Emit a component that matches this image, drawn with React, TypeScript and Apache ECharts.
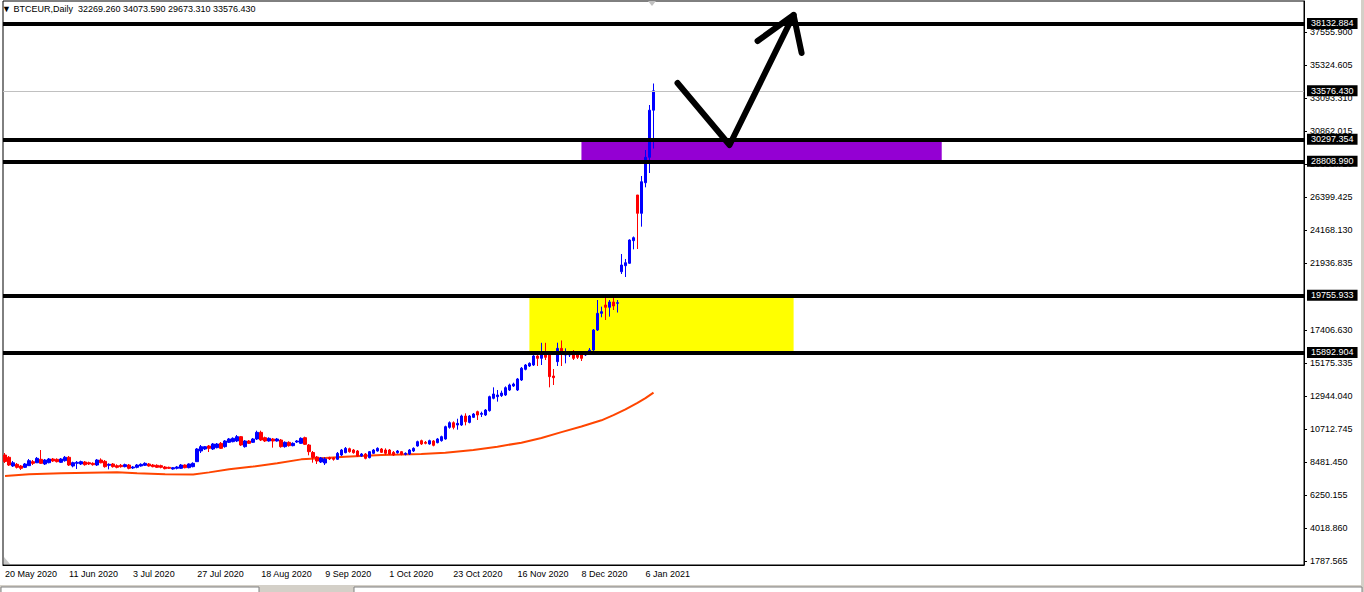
import React, { useEffect, useRef } from "react";
import * as echarts from "echarts";

// ---- data ----
const symbolName = "BTCEUR,Daily";
const dateLabels = [
  "20 May 2020", "11 Jun 2020", "3 Jul 2020", "27 Jul 2020", "18 Aug 2020", "9 Sep 2020",
  "1 Oct 2020", "23 Oct 2020", "16 Nov 2020", "8 Dec 2020", "6 Jan 2021",
];
const barsPerLabel = 16;
const slotCount = 325;

// [open, close, low, high]
const candles: number[][] = [
  [8955, 8516, 8414, 9090], [8800, 8279, 8212, 8888], [8212, 8430, 8144, 8550], [8324, 8121, 8042, 8414],
  [8212, 8054, 7941, 8279], [8121, 8347, 8076, 8414], [8234, 8572, 8212, 8685], [8505, 8392, 8279, 8617],
  [8430, 8730, 8414, 8820], [8663, 8392, 8347, 9293], [8347, 8617, 8279, 8685], [8436, 8685, 8392, 8752],
  [8685, 8550, 8482, 8752], [8663, 8505, 8450, 8730], [8460, 8685, 8414, 8752], [8572, 8800, 8505, 8888],
  [8800, 8279, 8212, 8888], [8212, 8436, 8121, 8505], [8392, 8460, 8009, 8550], [8347, 8505, 8279, 8572],
  [8482, 8301, 8234, 8550], [8436, 8347, 8279, 8505], [8392, 8301, 8234, 8460], [8279, 8617, 8212, 8685],
  [8617, 8430, 8392, 8730], [8527, 8167, 8100, 8617], [8257, 8324, 7986, 8392], [8347, 8167, 8100, 8414],
  [8234, 8121, 8054, 8324], [8257, 8167, 8100, 8347], [8167, 8301, 8121, 8370], [8279, 8054, 7986, 8347],
  [8076, 8144, 8009, 8212], [8121, 8279, 8054, 8347], [8212, 8324, 8167, 8392], [8257, 8392, 8212, 8460],
  [8347, 8212, 8167, 8414], [8279, 8167, 8121, 8347], [8257, 8121, 8076, 8324], [8234, 8121, 8054, 8301],
  [8144, 8031, 7986, 8212], [8121, 8054, 8009, 8167], [8009, 8098, 7963, 8144], [8054, 8144, 7986, 8212],
  [8054, 8279, 8009, 8347], [8279, 8098, 8054, 8324], [8098, 8347, 8054, 8392], [8167, 8392, 8121, 8460],
  [8505, 9361, 8482, 9428], [9226, 9519, 9090, 9631], [9361, 9519, 9293, 9564], [9564, 9406, 9158, 9631],
  [9361, 9699, 9293, 9766], [9451, 9699, 9406, 9766], [9744, 9406, 9361, 9834], [9519, 9902, 9451, 9969],
  [9812, 10037, 9766, 10105], [9857, 10082, 9812, 10150], [9902, 10195, 9834, 10307], [10195, 9631, 9564, 10240],
  [9519, 9902, 9451, 9969], [9902, 9744, 9699, 9969], [9812, 10037, 9766, 10105], [10037, 10487, 9969, 10600],
  [10487, 9969, 9902, 10600], [10127, 9902, 9834, 10195], [9902, 10082, 9857, 10150], [10037, 9902, 9451, 10105],
  [9902, 10037, 9857, 10105], [9969, 9519, 9451, 10037], [9519, 9812, 9451, 9880], [9812, 9586, 9519, 9880],
  [9586, 9744, 9541, 9812], [9834, 9902, 9766, 9969], [9744, 10082, 9699, 10150], [10127, 9676, 9631, 10195],
  [9631, 9180, 8932, 9699], [9125, 8786, 8437, 9226], [8820, 8550, 8347, 8888], [8482, 8752, 8414, 8820],
  [8414, 8685, 8279, 8800], [8775, 8685, 8617, 8842], [8752, 8663, 8572, 8820], [8663, 9068, 8617, 9158],
  [8955, 9293, 8888, 9361], [9113, 9406, 9068, 9496], [9383, 9180, 9113, 9451], [9293, 9113, 9045, 9361],
  [9226, 8888, 8820, 9293], [8888, 9023, 8820, 9090], [9023, 8730, 8663, 9090], [8775, 9180, 8730, 9226],
  [9068, 9293, 9023, 9361], [9226, 9406, 9180, 9474], [9361, 9135, 9090, 9428], [9293, 9068, 8955, 9406],
  [9293, 9023, 8955, 9361], [9135, 8955, 8888, 9226], [9113, 9226, 9045, 9293], [9180, 9000, 8932, 9226],
  [9000, 9068, 8932, 9135], [9023, 9293, 8955, 9361], [9226, 9406, 9158, 9474], [9564, 9857, 9519, 9924],
  [9924, 9699, 9631, 9992], [9812, 9744, 9676, 9902], [9699, 9924, 9654, 9992], [9902, 9609, 9541, 9969],
  [9789, 10037, 9744, 10105], [9924, 10195, 9857, 10262], [10037, 10870, 9992, 10938], [10825, 11139, 10735, 11228],
  [11139, 10825, 10690, 11228], [10983, 11094, 10667, 11408], [10983, 11592, 10915, 11682], [11592, 11206, 10960, 11772],
  [11161, 11592, 11094, 11659], [11502, 11727, 11457, 11795], [11885, 11659, 11321, 11953], [11704, 11772, 11523, 11885],
  [11659, 11997, 11592, 12064], [11953, 12899, 11885, 12967], [12787, 13079, 12720, 13530], [12899, 13011, 12562, 13350],
  [12967, 13147, 12877, 13305], [13011, 13507, 12944, 13597], [13350, 13688, 13282, 13778], [13620, 13755, 13553, 13846],
  [13350, 14094, 13282, 14162], [14026, 14823, 13958, 14905], [14747, 15040, 14680, 15107], [14972, 15153, 14905, 15220],
  [15040, 15649, 14972, 15716], [15649, 15491, 14972, 15987], [15491, 15784, 15040, 16541], [15784, 15559, 15378, 16541],
  [15784, 14251, 13530, 15920], [14296, 14183, 13688, 14770], [15265, 16165, 14972, 16549], [16165, 15784, 14972, 16700],
  [15716, 15869, 15152, 16165], [15716, 15829, 15581, 15987], [15784, 15491, 15378, 16054], [15784, 15559, 15446, 15920],
  [15784, 15491, 15310, 15920], [15716, 15869, 15649, 15987], [15897, 16054, 15829, 16190], [16054, 17406, 15987, 17474],
  [17406, 18534, 17339, 19435], [18534, 18646, 18268, 18985], [19097, 18940, 18083, 19773], [18940, 19300, 18309, 19435],
  [19300, 19030, 18759, 19773], [19210, 19255, 18590, 19435], [21348, 21801, 21193, 22545], [21754, 21957, 20990, 22208],
  [21918, 23492, 21889, 23537], [23447, 23649, 22860, 23729], [26535, 25296, 22883, 26535], [25296, 27433, 24394, 27819],
  [27366, 29084, 27054, 29577], [29084, 32269, 28022, 32620], [32269.26, 33576.43, 29673.31, 34073.59],
];

// moving average, [bar index, value]
const maPoints: number[][] = [
  [0, 7540], [6, 7650], [14, 7720], [28, 7790], [33, 7720], [40, 7650], [47, 7630], [51, 7780],
  [56, 7990], [62, 8170], [68, 8400], [74, 8660], [80, 8760], [85, 8840], [94, 8955], [104, 9025],
  [110, 9115], [117, 9295], [123, 9520], [129, 9790], [134, 10105], [139, 10500], [144, 10880],
  [149, 11300], [152, 11650], [155, 12040], [158, 12480], [160, 12800], [162, 13170],
];

const yTicks = [
  1787.565, 4018.86, 6250.155, 8481.45, 10712.745, 12944.04, 15175.335, 17406.63,
  21936.835, 24168.13, 26399.425, 28630.72, 30862.015, 33093.31, 35324.605, 37555.9,
];
const yMin = 1517.6;
const yMax = 39652;

const levelLines = [38132.884, 30297.354, 28808.99, 19755.933, 15892.904];
const lastPrice = 33576.43;

// zones: [from bar, to bar, low, high]
const yellowZone = [131, 197, 15892.904, 19755.933];
const purpleZone = [144, 234, 28808.99, 30297.354];

// hand-drawn arrow, [bar index, price]
const arrowStroke: number[][] = [[168, 34108], [181, 29916], [197, 38705]];
const arrowHead: number[][] = [[188, 36947], [197, 38705], [199, 36136]];

const FONT = "'Liberation Sans', Arial, 'DejaVu Sans', sans-serif";

export default function App() {
  const ref = useRef<HTMLDivElement>(null);

  useEffect(() => {
    document.body.style.margin = "0";
    if (!ref.current) return;
    const chart = echarts.init(ref.current, null, { renderer: "svg" });

    const slots = Array.from({ length: slotCount }, (_, i) => String(i));
    const showLabel = (i: number) => i % barsPerLabel === 0 && i / barsPerLabel < dateLabels.length;
    const last = candles[candles.length - 1];
    const header = [last[0], last[3], last[2], last[1]].map((v) => v.toFixed(3)).join(" ");

    const levelLabel = (v: number) => ({
      show: true,
      position: "end",
      distance: 3,
      color: "#fff",
      backgroundColor: "#000",
      padding: [1, 4, 1, 4],
      fontSize: 9,
      lineHeight: 9,
      fontFamily: FONT,
      formatter: v.toFixed(3),
    });

    const option: any = {
      animation: false,
      backgroundColor: "#fff",
      textStyle: { fontFamily: FONT },
      title: {
        text: `▼ ${symbolName}  ${header}`,
        left: 2,
        top: 4,
        padding: 0,
        textStyle: { fontFamily: FONT, fontSize: 9, fontWeight: "normal", color: "#000" },
      },
      grid: {
        left: 3,
        right: 60,
        top: 1,
        bottom: 27,
        show: true,
        borderColor: "#000",
        borderWidth: 1,
      },
      xAxis: {
        type: "category",
        data: slots,
        boundaryGap: true,
        axisLine: { lineStyle: { color: "#000", width: 1 } },
        axisTick: {
          alignWithLabel: true,
          interval: (i: number) => showLabel(i),
          length: 4,
          lineStyle: { color: "#000" },
        },
        axisLabel: {
          interval: (i: number) => showLabel(i),
          formatter: (_v: string, i: number) => dateLabels[i / barsPerLabel] ?? "",
          align: "left",
          margin: 4,
          fontSize: 9,
          color: "#000",
          fontFamily: FONT,
        },
        splitLine: { show: false },
      },
      yAxis: {
        type: "value",
        position: "right",
        min: yMin,
        max: yMax,
        axisLine: { show: true, lineStyle: { color: "#000", width: 1 } },
        axisTick: { show: true, customValues: yTicks, length: 3, lineStyle: { color: "#000" } },
        axisLabel: {
          customValues: yTicks,
          formatter: (v: number) => v.toFixed(3),
          margin: 6,
          fontSize: 9,
          color: "#000",
          fontFamily: FONT,
        },
        splitLine: { show: false },
      },
      series: [
        {
          type: "candlestick",
          data: candles,
          barWidth: 3,
          z: 3,
          itemStyle: {
            color: "#0000FF",
            color0: "#FF0000",
            borderColor: "#0000FF",
            borderColor0: "#FF0000",
            borderColorDoji: "#0000FF",
            borderWidth: 1,
          },
          markArea: {
            silent: true,
            data: [
              [
                { xAxis: yellowZone[0], yAxis: yellowZone[2], itemStyle: { color: "#FFFF00", opacity: 1 } },
                { xAxis: yellowZone[1], yAxis: yellowZone[3] },
              ],
              [
                { xAxis: purpleZone[0], yAxis: purpleZone[2], itemStyle: { color: "#9400D3", opacity: 1 } },
                { xAxis: purpleZone[1], yAxis: purpleZone[3] },
              ],
            ],
          },
          markLine: {
            silent: true,
            symbol: ["none", "none"],
            animation: false,
            data: [
              {
                yAxis: lastPrice,
                lineStyle: { color: "#C0C0C0", width: 1, type: "solid" },
                label: levelLabel(lastPrice),
              },
              ...levelLines.map((v) => ({
                yAxis: v,
                lineStyle: { color: "#000", width: 4, type: "solid" },
                label: levelLabel(v),
              })),
            ],
          },
        },
        {
          type: "line",
          data: maPoints,
          showSymbol: false,
          symbol: "none",
          z: 2,
          lineStyle: { color: "#FF4500", width: 2 },
        },
        {
          type: "line",
          data: arrowStroke,
          showSymbol: false,
          symbol: "none",
          z: 10,
          lineStyle: { color: "#000", width: 6, cap: "round", join: "round" },
        },
        {
          type: "line",
          data: arrowHead,
          showSymbol: false,
          symbol: "none",
          z: 10,
          lineStyle: { color: "#000", width: 6, cap: "round", join: "round" },
        },
      ],
      graphic: [
        { type: "rect", shape: { x: 0, y: 585, width: 1364, height: 7 }, style: { fill: "#D4D0C8" }, silent: true },
        { type: "rect", shape: { x: 1, y: 587, width: 258, height: 6 }, style: { fill: "#fff", stroke: "#808080", lineWidth: 1 }, silent: true },
        { type: "rect", shape: { x: 354, y: 587, width: 1008, height: 6 }, style: { fill: "#fff", stroke: "#808080", lineWidth: 1 }, silent: true },
        { type: "rect", shape: { x: 1361, y: 0, width: 3, height: 585 }, style: { fill: "#D4D0C8" }, silent: true },
        { type: "polygon", shape: { points: [[648, 1], [656, 1], [652, 6]] }, style: { fill: "#C0C0C0" }, silent: true },
        { type: "polygon", shape: { points: [[4, 557], [4, 564], [10, 564]] }, style: { fill: "#C8C8C8" }, silent: true },
      ],
    };

    chart.setOption(option);
    return () => chart.dispose();
  }, []);

  return <div ref={ref} style={{ width: 1364, height: 592 }} />;
}
